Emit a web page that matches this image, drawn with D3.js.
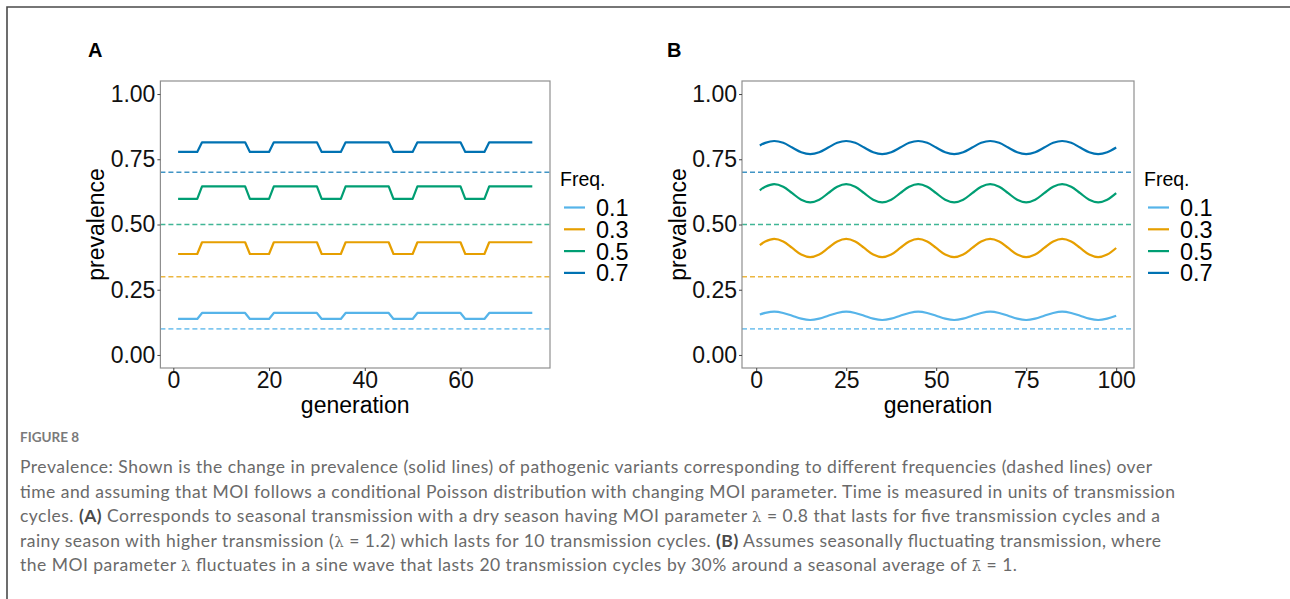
<!DOCTYPE html>
<html>
<head>
<meta charset="utf-8">
<script src="https://cdn.jsdelivr.net/npm/d3@7"></script>
<style>
  body { margin: 0; background: #fff; }
  svg { display: block; }
</style>
</head>
<body>
<div id="chart"></div>
<script>
// frequency levels (legend) and their colours
const freqLabels = ['0.1', '0.3', '0.5', '0.7']
const freqValues = [0.1, 0.3, 0.5, 0.7]
const freqColors = ['#56B4E9', '#E69F00', '#009E73', '#0072B2']

const yTicks = [0, 0.25, 0.5, 0.75, 1]

// panel A: seasonal transmission (dry 5 cycles / rainy 10 cycles)
const xTicksA = [0, 20, 40, 60]
const genA = [1, 5, 6, 15, 16, 20, 21, 30, 31, 35, 36, 45, 46, 50, 51, 60, 61, 65, 66, 75]
const prevA01 = [0.138, 0.138, 0.161, 0.161, 0.138, 0.138, 0.161, 0.161, 0.138, 0.138, 0.161, 0.161, 0.138, 0.138, 0.161, 0.161, 0.138, 0.138, 0.161, 0.161]
const prevA03 = [0.387, 0.387, 0.432, 0.432, 0.387, 0.387, 0.432, 0.432, 0.387, 0.387, 0.432, 0.432, 0.387, 0.387, 0.432, 0.432, 0.387, 0.387, 0.432, 0.432]
const prevA05 = [0.598, 0.598, 0.646, 0.646, 0.598, 0.598, 0.646, 0.646, 0.598, 0.598, 0.646, 0.646, 0.598, 0.598, 0.646, 0.646, 0.598, 0.598, 0.646, 0.646]
const prevA07 = [0.778, 0.778, 0.815, 0.815, 0.778, 0.778, 0.815, 0.815, 0.778, 0.778, 0.815, 0.815, 0.778, 0.778, 0.815, 0.815, 0.778, 0.778, 0.815, 0.815]

// panel B: sine-wave fluctuating transmission
const xTicksB = [0, 25, 50, 75, 100]
const genB = [1, 2.5, 5, 7.5, 10, 12.5, 15, 17.5, 20, 22.5, 25, 27.5, 30, 32.5, 35, 37.5, 40, 42.5, 45, 47.5, 50,
  52.5, 55, 57.5, 60, 62.5, 65, 67.5, 70, 72.5, 75, 77.5, 80, 82.5, 85, 87.5, 90, 92.5, 95, 97.5, 100]
const prevB01 = [0.155,
  0.161, 0.166, 0.161, 0.150, 0.139, 0.134, 0.139, 0.150,
  0.161, 0.166, 0.161, 0.150, 0.139, 0.134, 0.139, 0.150,
  0.161, 0.166, 0.161, 0.150, 0.139, 0.134, 0.139, 0.150,
  0.161, 0.166, 0.161, 0.150, 0.139, 0.134, 0.139, 0.150,
  0.161, 0.166, 0.161, 0.150, 0.139, 0.134, 0.139, 0.150]
const prevB03 = [0.421,
  0.435, 0.445, 0.435, 0.410, 0.385, 0.375, 0.385, 0.410,
  0.435, 0.445, 0.435, 0.410, 0.385, 0.375, 0.385, 0.410,
  0.435, 0.445, 0.435, 0.410, 0.385, 0.375, 0.385, 0.410,
  0.435, 0.445, 0.435, 0.410, 0.385, 0.375, 0.385, 0.410,
  0.435, 0.445, 0.435, 0.410, 0.385, 0.375, 0.385, 0.410]
const prevB05 = [0.631,
  0.645, 0.655, 0.645, 0.620, 0.595, 0.585, 0.595, 0.620,
  0.645, 0.655, 0.645, 0.620, 0.595, 0.585, 0.595, 0.620,
  0.645, 0.655, 0.645, 0.620, 0.595, 0.585, 0.595, 0.620,
  0.645, 0.655, 0.645, 0.620, 0.595, 0.585, 0.595, 0.620,
  0.645, 0.655, 0.645, 0.620, 0.595, 0.585, 0.595, 0.620]
const prevB07 = [0.803,
  0.813, 0.820, 0.813, 0.795, 0.777, 0.770, 0.777, 0.795,
  0.813, 0.820, 0.813, 0.795, 0.777, 0.770, 0.777, 0.795,
  0.813, 0.820, 0.813, 0.795, 0.777, 0.770, 0.777, 0.795,
  0.813, 0.820, 0.813, 0.795, 0.777, 0.770, 0.777, 0.795,
  0.813, 0.820, 0.813, 0.795, 0.777, 0.770, 0.777, 0.795]

const captionTitle = 'FIGURE 8'
const captionLines = [
  [{ t: 'Prevalence: Shown is the change in prevalence (solid lines) of pathogenic variants corresponding to different frequencies (dashed lines) over' }],
  [{ t: 'time and assuming that MOI follows a conditional Poisson distribution with changing MOI parameter. Time is measured in units of transmission' }],
  [{ t: 'cycles. ' }, { t: '(A)', b: true }, { t: ' Corresponds to seasonal transmission with a dry season having MOI parameter ' }, { t: 'λ', m: true }, { t: ' = 0.8 that lasts for five transmission cycles and a' }],
  [{ t: 'rainy season with higher transmission (' }, { t: 'λ', m: true }, { t: ' = 1.2) which lasts for 10 transmission cycles. ' }, { t: '(B)', b: true }, { t: ' Assumes seasonally fluctuating transmission, where' }],
  [{ t: 'the MOI parameter ' }, { t: 'λ', m: true }, { t: ' fluctuates in a sine wave that lasts 20 transmission cycles by 30% around a seasonal average of ' }, { t: 'λ̄', m: true }, { t: ' = 1.' }]
]

const width = 1290
const height = 599
const font = "'Liberation Sans', Arial, Helvetica, sans-serif"

const svg = d3.select('#chart')
  .append('svg')
  .attr('width', width)
  .attr('height', height)

svg.append('rect').attr('width', width).attr('height', height).attr('fill', '#fff')

// outer frame (top and left edges only)
svg.append('path')
  .attr('d', `M7,${height} L7,7 L${width},7`)
  .attr('fill', 'none')
  .attr('stroke', '#4a4a4a')
  .attr('stroke-width', 1.6)

function drawPanel (p) {
  const x = d3.scaleLinear().domain(p.xDomain).range([p.left, p.right])
  const y = d3.scaleLinear().domain([-0.05, 1.05]).range([p.bottom, p.top])

  const g = svg.append('g')

  // panel letter
  g.append('text')
    .attr('x', p.letterX)
    .attr('y', 57)
    .attr('font-family', font)
    .attr('font-weight', 700)
    .attr('font-size', 20)
    .text(p.letter)

  // dashed reference frequencies
  g.selectAll('line.freq')
    .data(freqValues)
    .enter()
    .append('line')
    .attr('class', 'freq')
    .attr('x1', p.left)
    .attr('x2', p.right)
    .attr('y1', d => y(d))
    .attr('y2', d => y(d))
    .attr('stroke', (d, i) => freqColors[i])
    .attr('stroke-opacity', 0.75)
    .attr('stroke-width', 1.6)
    .attr('stroke-dasharray', '5,3')

  // prevalence lines
  const line = d3.line()
    .x(d => x(d[0]))
    .y(d => y(d[1]))
    .curve(p.curve)

  g.selectAll('path.prev')
    .data(p.series)
    .enter()
    .append('path')
    .attr('class', 'prev')
    .attr('d', s => line(p.gens.map((gen, i) => [gen, s[i]])))
    .attr('fill', 'none')
    .attr('stroke', (d, i) => freqColors[i])
    .attr('stroke-width', 2.2)
    .attr('stroke-linejoin', 'round')

  // panel border
  g.append('rect')
    .attr('x', p.left)
    .attr('y', p.top)
    .attr('width', p.right - p.left)
    .attr('height', p.bottom - p.top)
    .attr('fill', 'none')
    .attr('stroke', '#8f8f8f')
    .attr('stroke-width', 1.2)

  // axes
  const yAxisG = g.append('g')
    .attr('transform', `translate(${p.left}, 0)`)
    .call(d3.axisLeft(y).tickValues(yTicks).tickFormat(d3.format('.2f')).tickSize(3).tickPadding(2))
  const xAxisG = g.append('g')
    .attr('transform', `translate(0, ${p.bottom})`)
    .call(d3.axisBottom(x).tickValues(p.xTicks).tickSize(3).tickPadding(1))

  for (const a of [yAxisG, xAxisG]) {
    a.select('.domain').remove()
    a.selectAll('.tick line').attr('stroke', '#444')
    a.selectAll('.tick text')
      .attr('fill', '#111')
      .attr('font-family', font)
      .attr('font-size', 23)
  }

  // axis titles
  g.append('text')
    .attr('x', (p.left + p.right) / 2)
    .attr('y', 413)
    .attr('text-anchor', 'middle')
    .attr('font-family', font)
    .attr('font-size', 23)
    .text('generation')

  g.append('text')
    .attr('transform', `translate(${p.left - 56}, ${(p.top + p.bottom) / 2}) rotate(-90)`)
    .attr('text-anchor', 'middle')
    .attr('font-family', font)
    .attr('font-size', 23)
    .text('prevalence')

  // legend
  const lg = g.append('g').attr('transform', `translate(${p.right + 10}, 0)`)
  lg.append('text')
    .attr('x', 0)
    .attr('y', 186)
    .attr('font-family', font)
    .attr('font-size', 19.5)
    .text('Freq.')

  const item = lg.selectAll('g.item')
    .data(freqLabels)
    .enter()
    .append('g')
    .attr('class', 'item')
    .attr('transform', (d, i) => `translate(0, ${207.5 + i * 21.8})`)

  item.append('line')
    .attr('x1', 4)
    .attr('x2', 25)
    .attr('stroke', (d, i) => freqColors[i])
    .attr('stroke-width', 2.2)

  item.append('text')
    .attr('x', 36)
    .attr('dy', '0.36em')
    .attr('font-family', font)
    .attr('font-size', 23.5)
    .text(d => d)
}

drawPanel({
  letter: 'A',
  letterX: 88,
  left: 160.4,
  right: 550,
  top: 81,
  bottom: 368,
  xDomain: [-2.7, 78.7],
  xTicks: xTicksA,
  gens: genA,
  series: [prevA01, prevA03, prevA05, prevA07],
  curve: d3.curveLinear
})

drawPanel({
  letter: 'B',
  letterX: 667,
  left: 742,
  right: 1134,
  top: 81,
  bottom: 368,
  xDomain: [-3.95, 104.95],
  xTicks: xTicksB,
  gens: genB,
  series: [prevB01, prevB03, prevB05, prevB07],
  curve: d3.curveCatmullRom
})

// caption
const capFont = "Lato, 'Open Sans', sans-serif"
svg.append('text')
  .attr('x', 20)
  .attr('y', 442)
  .attr('font-family', capFont)
  .attr('font-size', 13.5)
  .attr('font-weight', 700)
  .attr('fill', '#7a7a7a')
  .text(captionTitle)

const lineWidths = [1132, 1155, 1140, 1141, 997]
captionLines.forEach((parts, i) => {
  const t = svg.append('text')
    .attr('x', 20)
    .attr('y', 473 + i * 24.5)
    .attr('font-family', capFont)
    .attr('font-size', 17.5)
    .attr('fill', '#6a6a6a')
  parts.forEach(part => {
    const ts = t.append('tspan').text(part.t)
    if (part.b) ts.attr('font-weight', 700).attr('fill', '#4a4a4a')
    if (part.m) ts.attr('font-family', "'DejaVu Serif', serif").attr('font-size', 15)
  })
  t.attr('textLength', lineWidths[i]).attr('lengthAdjust', 'spacing')
})
</script>
</body>
</html>
